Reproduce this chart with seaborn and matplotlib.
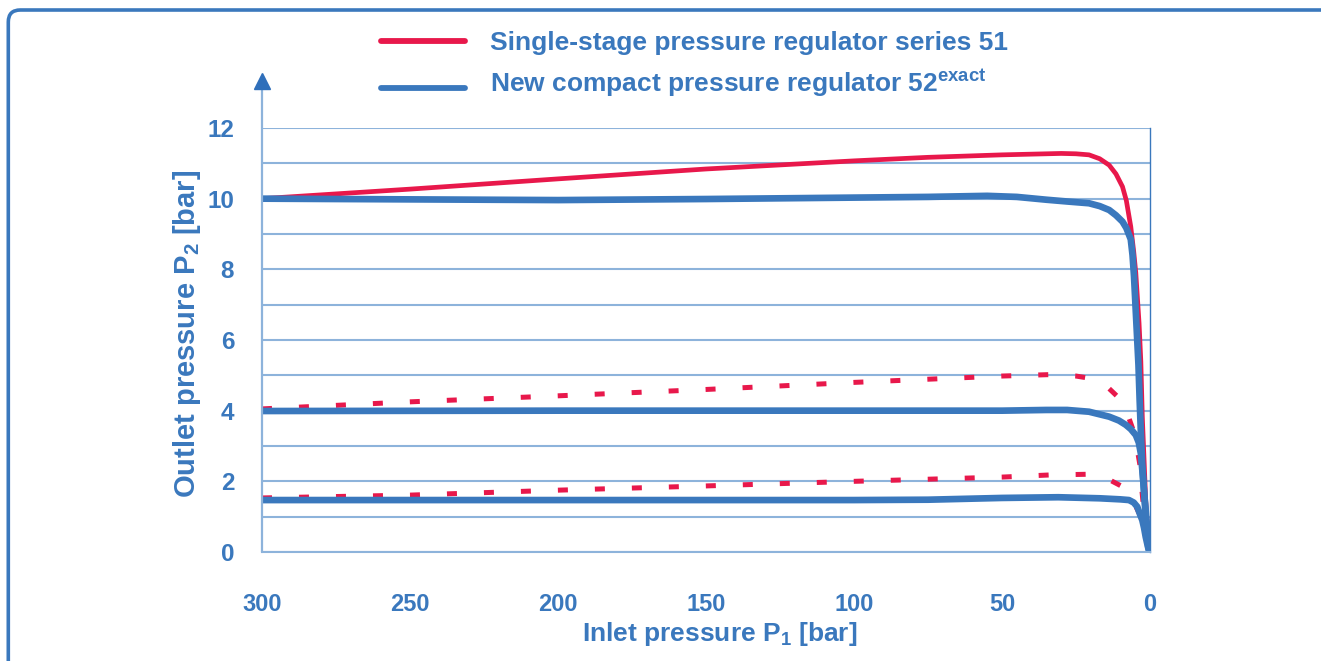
import numpy as np
import pandas as pd
import matplotlib
matplotlib.use("Agg")
import matplotlib.pyplot as plt
import seaborn as sns
from matplotlib.patches import FancyBboxPatch
from matplotlib.lines import Line2D
from matplotlib.transforms import IdentityTransform
from matplotlib.legend_handler import HandlerLine2D

# ---------------- data (inlet pressure P1 [bar] -> outlet pressure P2 [bar]) ----------------
p_s51_10 = [300, 250, 200, 150, 100, 75, 50, 30, 25, 20.6, 17, 13.8, 11.5, 9.3, 8, 6.5, 5.5, 4.8, 3.7, 3.1, 2.6, 2.0, 1.46, 0.8, 0.3]
v_s51_10 = [10.0, 10.27, 10.56, 10.84, 11.07, 11.17, 11.24, 11.28, 11.27, 11.24, 11.13, 10.95, 10.7, 10.34, 9.95, 9.21, 8.5, 7.9, 6.48, 5.4, 3.83, 2.6, 1.47, 0.6, 0.15]

p_s52_10 = [300, 250, 200, 150, 100, 75, 55, 45, 35, 28, 20.6, 17, 13.8, 11.5, 9.3, 8, 6.5, 5.9, 5.4, 4.8, 3.9, 3.5, 3.0, 2.6, 2.0, 1.46, 0.8, 0.2]
v_s52_10 = [10.0, 9.98, 9.96, 9.99, 10.03, 10.05, 10.08, 10.05, 9.97, 9.92, 9.87, 9.79, 9.68, 9.53, 9.35, 9.17, 8.85, 8.4, 7.8, 6.8, 5.3, 4.3, 3.2, 2.45, 1.7, 1.0, 0.45, 0.03]

p_s51_4 = [300, 250, 200, 150, 100, 50, 34, 25, 20.6, 15, 11, 8, 5.9, 4.5, 3.4, 2.8, 2.0, 1.2, 0.4]
v_s51_4 = [4.05, 4.25, 4.42, 4.6, 4.8, 4.98, 5.02, 4.98, 4.92, 4.72, 4.4, 4.0, 3.5, 3.0, 2.46, 1.8, 1.1, 0.7, 0.45]

p_s52_4 = [300, 200, 100, 50, 35, 28, 20.6, 13.8, 10.5, 8.2, 6.5, 4.8, 3.8, 3.1, 2.4, 1.9, 1.46, 1.0, 0.6, 0.2]
v_s52_4 = [3.99, 4.0, 4.0, 4.0, 4.02, 4.02, 3.97, 3.83, 3.72, 3.6, 3.48, 3.31, 3.1, 2.79, 2.13, 1.6, 1.19, 0.7, 0.15, 0.02]

p_s51_15 = [300, 250, 200, 150, 100, 50, 34, 21, 15, 9.3, 6, 3.1, 1.8, 0.9, 0.3]
v_s51_15 = [1.53, 1.61, 1.75, 1.87, 2.0, 2.12, 2.18, 2.2, 2.1, 1.85, 1.5, 1.0, 0.75, 0.57, 0.45]

p_s52_15 = [300, 200, 100, 75, 50, 31, 17, 10, 7.1, 5.5, 4.3, 3.3, 2.6, 2.0, 1.46, 0.9, 0.5, 0.2]
v_s52_15 = [1.47, 1.47, 1.47, 1.48, 1.53, 1.55, 1.52, 1.49, 1.47, 1.4, 1.28, 1.05, 0.9, 0.68, 0.43, 0.22, 0.08, 0.01]

x_ticks = [300, 250, 200, 150, 100, 50, 0]
y_ticks = [0, 2, 4, 6, 8, 10, 12]
y_minor = [1, 3, 5, 7, 9, 11]

label_51 = "Single-stage pressure regulator series 51"
label_52 = "New compact pressure regulator 52$^{exact}$"
x_label = "Inlet pressure P$_{1}$ [bar]"
y_label = "Outlet pressure P$_{2}$ [bar]"

# ---------------- style ----------------
RED = "#e8184b"
BLUE = "#3a78bd"
GRID = "#8db3db"

sns.set_style("white")
plt.rcParams["font.family"] = ["Liberation Sans", "DejaVu Sans"]
plt.rcParams["font.weight"] = "bold"
plt.rcParams["mathtext.fontset"] = "custom"
plt.rcParams["mathtext.rm"] = "Liberation Sans:bold"
plt.rcParams["mathtext.it"] = "Liberation Sans:bold"
plt.rcParams["mathtext.bf"] = "Liberation Sans:bold"
plt.rcParams["mathtext.default"] = "rm"

W, H = 1321, 661
fig = plt.figure(figsize=(W / 100, H / 100), dpi=100)
ax = fig.add_axes([262 / W, 1 - 552 / H, 888 / W, 424 / H])

# red series first, blue on top
reds = [
    (p_s51_10, v_s51_10, "-", label_51),
    (p_s51_4, v_s51_4, (0, (2.0, 5.4)), None),
    (p_s51_15, v_s51_15, (0, (2.0, 5.4)), None),
]
blues = [
    (p_s52_10, v_s52_10, "-", label_52),
    (p_s52_4, v_s52_4, "-", None),
    (p_s52_15, v_s52_15, "-", None),
]
handles = {}
for x, y, ls, lab in reds:
    n0 = len(ax.lines)
    sns.lineplot(x=x, y=y, ax=ax, color=RED, linestyle=ls, linewidth=3.4 if ls == "-" else 3.6,
                 sort=False, estimator=None, legend=False)
    if lab:
        handles[lab] = ax.lines[n0]
for x, y, ls, lab in blues:
    n0 = len(ax.lines)
    sns.lineplot(x=x, y=y, ax=ax, color=BLUE, linestyle=ls, linewidth=4.8,
                 sort=False, estimator=None, legend=False)
    if lab:
        handles[lab] = ax.lines[n0]

ax.set_xlim(300, 0)
ax.set_ylim(0, 12)
ax.set_xticks(x_ticks)
ax.set_xticklabels([str(t) for t in x_ticks])
ax.set_yticks(y_ticks)
ax.set_yticks(y_minor, minor=True)
ax.set_yticklabels([str(t) for t in y_ticks])
ax.grid(True, axis="y", which="both", color=GRID, linewidth=1.5)
ax.grid(False, axis="x")
ax.tick_params(axis="y", which="both", length=0, pad=20, labelsize=17.5, labelcolor=BLUE)
ax.tick_params(axis="x", direction="out", length=7.5, width=1, color=BLUE, pad=22,
               labelsize=17, labelcolor=BLUE)

for s in ["top", "left"]:
    ax.spines[s].set_visible(False)
ax.spines["bottom"].set_color(GRID)
ax.spines["bottom"].set_linewidth(1.5)
ax.spines["right"].set_color(BLUE)
ax.spines["right"].set_linewidth(1.0)

# y axis line with arrow head
ax.add_line(Line2D([0, 0], [0, 1.095], transform=ax.transAxes, color=GRID, lw=1.6, clip_on=False))
ax.plot([0], [1.1108], marker="^", markersize=11.5, color="#2f6fba", transform=ax.transAxes,
        clip_on=False, linestyle="none")

ax.set_xlabel(x_label, fontsize=19, color=BLUE, fontweight="bold")
ax.set_ylabel(y_label, fontsize=21, color=BLUE, fontweight="bold")
ax.xaxis.label.set_va("center")
ax.yaxis.label.set_va("center")
ax.xaxis.set_label_coords(0.516, -0.193)
ax.yaxis.set_label_coords(-0.0845, 0.515)


class ShiftedLine(HandlerLine2D):
    def __init__(self, dy=0.0, **kw):
        super().__init__(**kw)
        self.dy = dy

    def create_artists(self, legend, orig_handle, xdescent, ydescent, width, height, fontsize, trans):
        arts = super().create_artists(legend, orig_handle, xdescent, ydescent, width, height, fontsize, trans)
        for a in arts:
            a.set_ydata(np.asarray(a.get_ydata(), dtype=float) + self.dy)
        return arts


h51, h52 = handles[label_51], handles[label_52]
leg = fig.legend([h51, h52], [label_51, label_52], loc="upper left",
                 bbox_to_anchor=(381 / W, 1 - 31 / H), frameon=False,
                 prop={"size": 19, "weight": "bold"}, labelcolor=BLUE,
                 handlelength=3.2, handletextpad=0.94, labelspacing=0.45,
                 borderpad=0, borderaxespad=0,
                 handler_map={h51: ShiftedLine(0.0), h52: ShiftedLine(-4.3)})
for ln in leg.get_lines():
    ln.set_linewidth(4.2)

# rounded frame
frame = FancyBboxPatch((8.3, -60), 1400, H - 10 + 60, boxstyle="round,pad=0,rounding_size=12",
                       transform=IdentityTransform(), fill=False, ec=BLUE, lw=2.6)
fig.add_artist(frame)

fig.savefig("out.png", dpi=100)
